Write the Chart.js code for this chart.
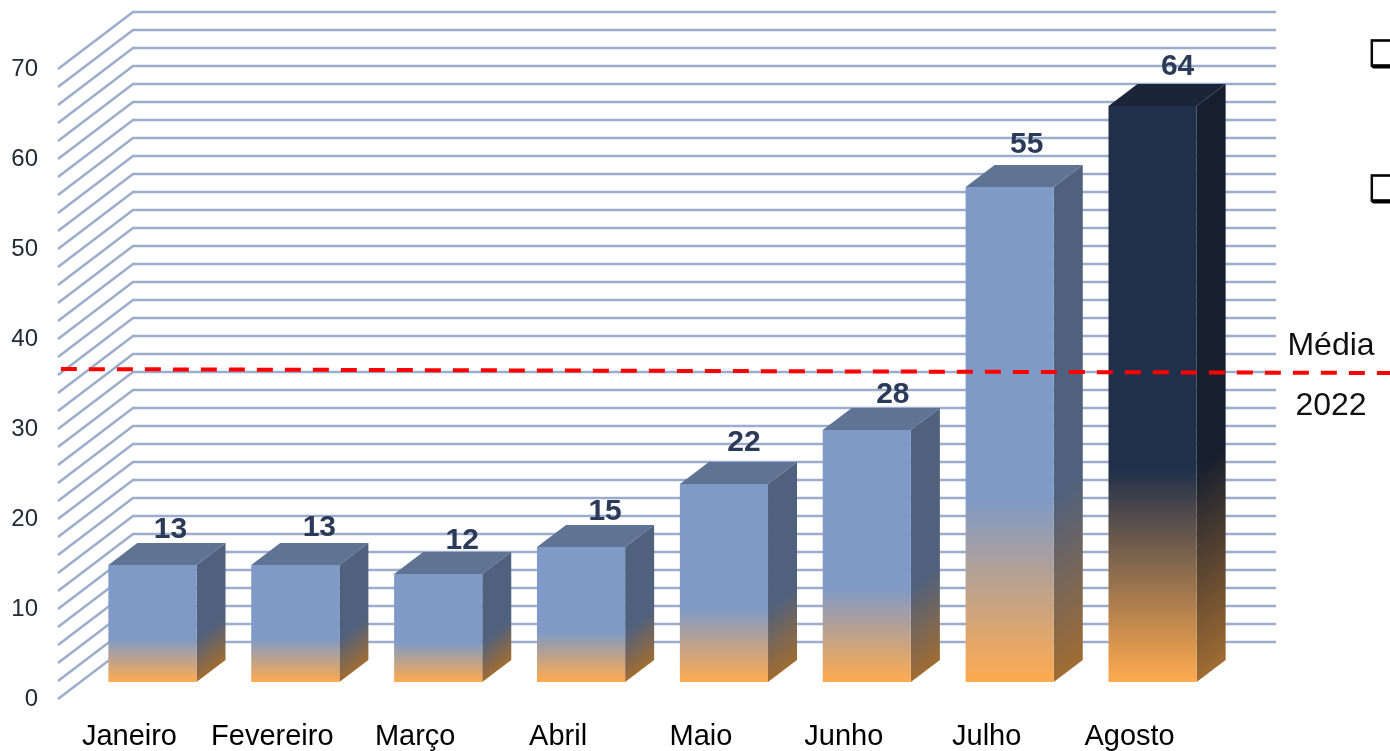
<!DOCTYPE html>
<html>
<head>
<meta charset="utf-8">
<title>Média 2022</title>
<style>
	html, body { margin:0; padding:0; background:#fff; overflow:hidden; }
	canvas { display:block; }
</style>
<script src="https://cdn.jsdelivr.net/npm/chart.js@4/dist/chart.umd.min.js"></script>
</head>
<body>
<canvas id="chart" width="1390" height="751"></canvas>
<script>

// Chart data. 
const months = ['Janeiro','Fevereiro','Março','Abril','Maio','Junho','Julho','Agosto'];
const values = [13,13,12,15,22,28,55,64];
const averageX = [-0.48,8.83];
const averageY = [36.66,36.22];
const averageLabels = ['Média','2022'];
const bulletMarks = ['❑','❑'];

// Nudges of the value labels, relative to the top front edge of each bar. 
const labelNudgeX = [18,24,24,24,20,26,17,25];
const labelNudgeY = [-35,-37,-33,-35,-41,-35,-42,-39];

// Define the fake 3D projection (in pixels). 
const WALL = {x:75, y:-57};
const BAR_SHIFT = {x:23, y:-17};
const BAR_DEPTH = {x:29, y:-22};

const ORANGE = '#FFAB4F';
const ORANGE_SIDE = '#A06C32';
const FILL_STOP = 0.37;

// Colors of the faces: blue for all bars, except the last one. 
function faces(i) {
	if (i===values.length-1) return {front:'#20304A', side:'#161F2E', top:'#1A2638'};
	return {front:'#7F9AC6', side:'#50617D', top:'#5F7394'};
}


/*****/


// Front face: orange at the floor, going to full color at the stop. 
function frontGradient(c) {
	const y = c.chart.scales.y;
	if (c.dataIndex===undefined || !y) return ORANGE;
	const floor = y.getPixelForValue(0);
	const top = y.getPixelForValue(values[c.dataIndex]);
	// Scales may not be laid out yet on the first pass. 
	if (!isFinite(floor) || !isFinite(top)) return ORANGE;
	const g = c.chart.ctx.createLinearGradient(0,floor,0,floor-(floor-top)*FILL_STOP);
	g.addColorStop(0,ORANGE);
	g.addColorStop(1,faces(c.dataIndex).front);
	return g;
}

// Draw the back wall and left side wall, one line per tick. 
const wallPlugin = {
	id:'wall',
	beforeDatasetsDraw(chart) {
		const ctx = chart.ctx;
		const area = chart.chartArea;
		const y = chart.scales.y;
		ctx.save();
		ctx.strokeStyle = '#9BACCC';
		ctx.lineWidth = 2.5;
		y.ticks.forEach(t => {
			const py = y.getPixelForValue(t.value);
			ctx.beginPath();
			ctx.moveTo(area.left,py);
			ctx.lineTo(area.left+WALL.x,py+WALL.y);
			ctx.lineTo(area.right+WALL.x,py+WALL.y);
			ctx.stroke();
		});
		ctx.restore();
	}
};

// Shift the bars back from the front edge and draw their side and top faces. 
const boxPlugin = {
	id:'box',
	beforeDatasetDraw(chart,args) {
		const ctx = chart.ctx;
		ctx.save();
		ctx.translate(BAR_SHIFT.x,BAR_SHIFT.y);
		const dx = BAR_DEPTH.x;
		const dy = BAR_DEPTH.y;
		const y = chart.scales.y;
		args.meta.data.forEach((bar,i) => {
			const left = bar.x-bar.width/2;
			const right = bar.x+bar.width/2;
			const top = y.getPixelForValue(values[i]);
			const base = y.getPixelForValue(0);
			const c = faces(i);

			// Side face: the blend follows the depth of the bar. 
			const len = Math.sqrt(dx*dx+dy*dy);
			const nx = -dy/len;
			const ny = dx/len;
			const d = (base-top)*FILL_STOP*ny;
			const g = ctx.createLinearGradient(right,base,right-nx*d,base-ny*d);
			g.addColorStop(0,ORANGE_SIDE);
			g.addColorStop(1,c.side);
			ctx.fillStyle = g;
			ctx.beginPath();
			ctx.moveTo(right,top);
			ctx.lineTo(right+dx,top+dy);
			ctx.lineTo(right+dx,base+dy);
			ctx.lineTo(right,base);
			ctx.closePath();
			ctx.fill();

			// Top face. 
			ctx.fillStyle = c.top;
			ctx.beginPath();
			ctx.moveTo(left,top);
			ctx.lineTo(left+dx,top+dy);
			ctx.lineTo(right+dx,top+dy);
			ctx.lineTo(right,top);
			ctx.closePath();
			ctx.fill();
		});
	},
	afterDatasetDraw(chart) {
		chart.ctx.restore();
	}
};

// Draw the average line, the value labels and the loose texts. 
const textPlugin = {
	id:'texts',
	afterDatasetsDraw(chart) {
		const ctx = chart.ctx;
		const meta = chart.getDatasetMeta(0);
		const xLine = chart.scales.xLine;
		const y = chart.scales.y;
		ctx.save();

		// The line runs past the plot area, so it goes on its own hidden scale. 
		ctx.strokeStyle = '#FF0000';
		ctx.lineWidth = 4;
		ctx.setLineDash([16,12]);
		ctx.beginPath();
		averageX.forEach((x,i) => {
			ctx.lineTo(xLine.getPixelForValue(x),y.getPixelForValue(averageY[i]));
		});
		ctx.stroke();
		ctx.setLineDash([]);

		ctx.textAlign = 'center';
		ctx.textBaseline = 'middle';

		ctx.font = 'bold 30px "Liberation Sans"';
		ctx.fillStyle = '#2A3A58';
		meta.data.forEach((bar,i) => {
			ctx.fillText(values[i],bar.x+BAR_SHIFT.x+labelNudgeX[i],bar.y+BAR_SHIFT.y+labelNudgeY[i]);
		});

		ctx.font = '32px "Liberation Sans"';
		ctx.fillStyle = '#111';
		ctx.fillText(averageLabels[0],1331,346);
		ctx.fillText(averageLabels[1],1331,406);

		// Thicken the bullets a bit, the glyph is thin in this font. 
		ctx.textAlign = 'left';
		ctx.font = '36px "DejaVu Sans"';
		ctx.fillStyle = '#000';
		ctx.strokeStyle = '#000';
		ctx.lineWidth = 1;
		ctx.fillText(bulletMarks[0],1369,57);
		ctx.strokeText(bulletMarks[0],1369,57);
		ctx.fillText(bulletMarks[1],1369,192);
		ctx.strokeText(bulletMarks[1],1369,192);
		ctx.restore();
	}
};


/*****/


const chart = new Chart(document.getElementById('chart').getContext('2d'),{
	data:{
		labels:months,
		datasets:[
			{
				type:'bar',
				data:values,
				backgroundColor:frontGradient,
				borderWidth:0,
				barPercentage:0.617,
				categoryPercentage:1
			}
		]
	},
	options:{
		responsive:false,
		animation:false,
		layout:{padding:{top:69,right:189,left:0,bottom:0}},
		plugins:{legend:{display:false},tooltip:{enabled:false}},
		scales:{
			x:{
				offset:true,
				afterFit(s) { s.height = 52; },
				grid:{display:false},
				border:{display:false},
				ticks:{
					padding:13,
					maxRotation:0,
					autoSkip:false,
					color:'#000',
					font:{family:'"Liberation Sans"',size:29}
				}
			},
			xLine:{
				type:'linear',
				display:false,
				min:-0.5,
				max:7.5
			},
			y:{
				min:0,
				max:70,
				afterFit(s) { s.width = 58; },
				grid:{display:false},
				border:{display:false},
				ticks:{
					stepSize:2,
					autoSkip:false,
					padding:12,
					color:'#222A35',
					font:{family:'"Liberation Sans"',size:24},
					callback:v => (v%10===0 ? v : '')
				}
			}
		}
	},
	plugins:[wallPlugin,boxPlugin,textPlugin]
});

</script>
</body>
</html>
